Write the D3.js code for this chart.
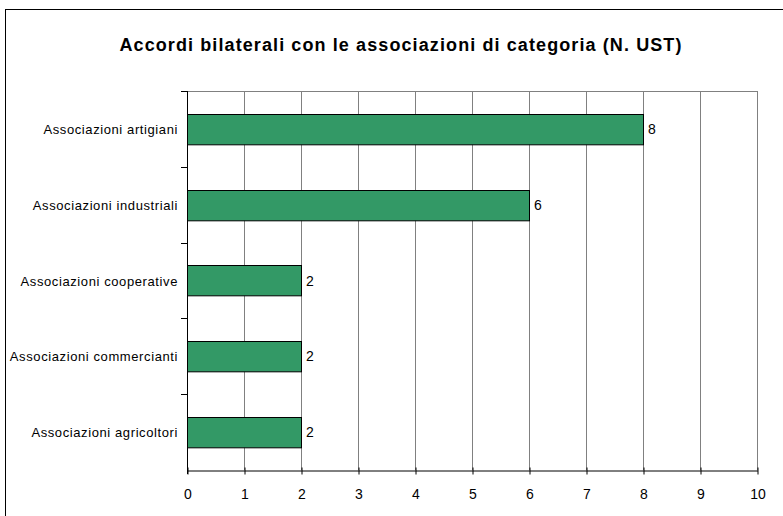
<!DOCTYPE html>
<html>
<head>
<meta charset="utf-8">
<script src="https://cdn.jsdelivr.net/npm/d3@7"></script>
<style>
  body { margin: 0; background: #fff; }
  text { font-family: "Liberation Sans", Arial, sans-serif; }
</style>
</head>
<body>
<svg id="chart"></svg>
<script>
/* data */
const categories = [
  "Associazioni artigiani",
  "Associazioni industriali",
  "Associazioni cooperative",
  "Associazioni commercianti",
  "Associazioni agricoltori"
];
const values = [8, 6, 2, 2, 2];
const xTicks = [0, 1, 2, 3, 4, 5, 6, 7, 8, 9, 10];
const title = "Accordi bilaterali con le associazioni di categoria (N. UST)";

const W = 783, H = 516;
const margin = { top: 91, right: 26, bottom: 46, left: 187 };
const width = W - margin.left - margin.right,
      height = H - margin.top - margin.bottom;

const svg = d3.select("#chart").attr("width", W).attr("height", H);

/* outer frame */
svg.append("rect")
  .attr("x", 5.5).attr("y", 9.5)
  .attr("width", W + 10).attr("height", H + 10)
  .attr("fill", "none").attr("stroke", "#000").attr("stroke-width", 1);

svg.append("text")
  .attr("x", 401).attr("y", 51)
  .attr("text-anchor", "middle")
  .attr("font-size", 18).attr("font-weight", "bold")
  .attr("letter-spacing", 1.1)
  .text(title);

const g = svg.append("g").attr("transform", `translate(${margin.left}, ${margin.top})`);

const x = d3.scaleLinear().domain([0, 10]).range([0, width]);
const y = d3.scaleBand().domain(categories).range([0, height]).paddingInner(0.6).paddingOuter(0.3);
const band = height / categories.length;

/* gridlines */
g.selectAll(".grid")
  .data(xTicks.slice(1))
  .join("line")
  .attr("x1", d => Math.round(x(d)) + 0.5).attr("x2", d => Math.round(x(d)) + 0.5)
  .attr("y1", 0).attr("y2", height)
  .attr("stroke", "#808080");

g.append("line")
  .attr("x1", -6).attr("x2", width).attr("y1", 0.5).attr("y2", 0.5)
  .attr("stroke", "#808080");

/* bars */
g.selectAll(".bar")
  .data(values)
  .join("rect")
  .attr("x", 0.5)
  .attr("y", (d, i) => Math.round(y(categories[i])) + 0.5)
  .attr("width", d => x(d))
  .attr("height", y.bandwidth())
  .attr("fill", "#339966")
  .attr("stroke", "#000");

/* value labels */
g.selectAll(".val")
  .data(values)
  .join("text")
  .attr("x", d => x(d) + 5)
  .attr("y", (d, i) => y(categories[i]) + y.bandwidth() / 2 + 5)
  .attr("font-size", 14)
  .text(d => d);

/* x axis */
const xAxis = g.append("g")
  .attr("transform", `translate(0.5, ${Math.round(height) + 0.5})`)
  .call(d3.axisBottom(x).tickValues(xTicks).tickSize(4).tickSizeOuter(0));
xAxis.select(".domain").attr("stroke", "#000");
xAxis.selectAll(".tick line").attr("y1", -3).attr("y2", 4).attr("stroke", "#000");
xAxis.selectAll(".tick text")
  .attr("font-family", "Liberation Sans, Arial, sans-serif")
  .attr("font-size", 14).attr("dy", 0).attr("y", 28).attr("fill", "#000");

/* y axis */
g.append("line")
  .attr("x1", 0.5).attr("x2", 0.5).attr("y1", 0).attr("y2", height + 4)
  .attr("stroke", "#000");
g.selectAll(".ytick")
  .data(d3.range(categories.length))
  .join("line")
  .attr("x1", -6).attr("x2", 0)
  .attr("y1", i => Math.round(i * band) + 0.5).attr("y2", i => Math.round(i * band) + 0.5)
  .attr("stroke", "#000");

g.selectAll(".cat")
  .data(categories)
  .join("text")
  .attr("x", -9)
  .attr("y", d => y(d) + y.bandwidth() / 2 + 5)
  .attr("text-anchor", "end")
  .attr("font-size", 13)
  .attr("letter-spacing", 0.6)
  .text(d => d);
</script>
</body>
</html>
